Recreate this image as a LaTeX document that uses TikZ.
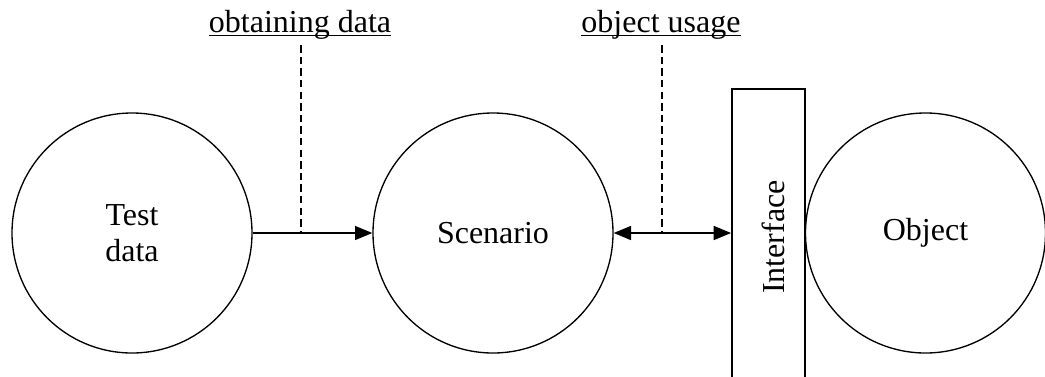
\documentclass[tikz,border=0pt]{standalone}
\usepackage{fontspec}
\setmainfont{Liberation Serif}
\usetikzlibrary{arrows.meta}

\tikzset{
  ring/.style={circle, draw, line width=1pt, minimum size=180pt, inner sep=0pt,
    align=center, font=\fontsize{24pt}{27pt}\selectfont},
  portbox/.style={draw, line width=1.4pt, minimum width=54.75pt, minimum height=232.5pt,
    inner sep=0pt},
  caption/.style={inner sep=0pt, font=\fontsize{24pt}{27pt}\selectfont},
  flow/.style={line width=1pt, -{Triangle[length=13pt,width=10.5pt]}},
  twoway/.style={line width=1pt, {Triangle[length=13pt,width=10.5pt]}-{Triangle[length=13pt,width=10.5pt]}},
  leader/.style={line width=1.3pt, dash pattern=on 5.5pt off 3.2pt},
  underbar/.style={line width=1pt}
}

\begin{document}
\begin{tikzpicture}[x=0.75pt, y=-0.75pt]
  \clip (0,0) rectangle (1045,376);
  \useasboundingbox (0,0) rectangle (1045,376);

  % the three actors
  \node[ring] (td) at (132,233) {Test\\data};
  \node[ring] (sc) at (493,233) {Scenario};
  \node[ring] (ob) at (925.5,233) {Object};

  % interface strip, running off the bottom edge
  \node[portbox] (if) at (768.5,244) {};
  \node[caption, rotate=90] (ift) at (773,237) {Interface};

  % connectors
  \draw[flow] (td.east) -- (sc.west);
  \draw[twoway] (sc.east) -- (if.west |- sc.east);

  % underlined captions with dashed leaders
  \node[caption, anchor=base] (l1) at (300,32) {obtaining data};
  \node[caption, anchor=base] (l2) at (661,32) {object usage};
  \draw[underbar] ([yshift=-2.4pt]l1.base west) -- ([yshift=-2.4pt]l1.base east);
  \draw[underbar] ([yshift=-2.4pt]l2.base west) -- ([yshift=-2.4pt]l2.base east);

  \coordinate (j1) at ([xshift=0.5pt]l1.south |- td.east);
  \coordinate (j2) at ([xshift=0.75pt]l2.south |- sc.east);
  \draw[leader] ([xshift=0.5pt,yshift=-4.5pt]l1.south) -- (j1);
  \draw[leader] ([xshift=0.75pt,yshift=-4.5pt]l2.south) -- (j2);
\end{tikzpicture}
\end{document}
